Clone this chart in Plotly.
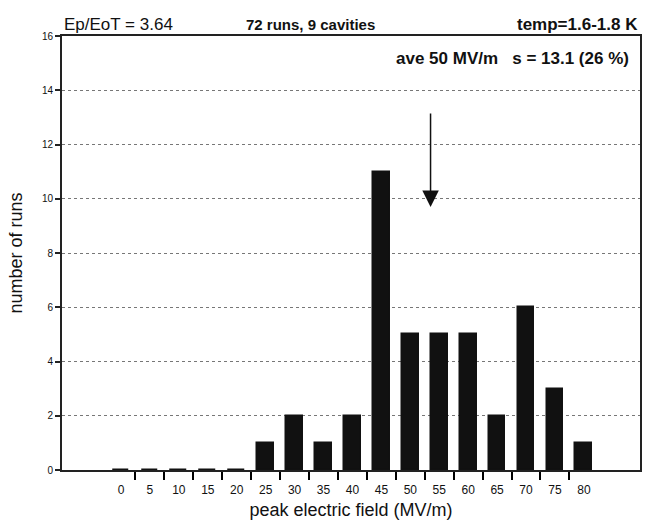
import plotly.graph_objects as go

field = [0, 5, 10, 15, 20, 25, 30, 35, 40, 45, 50, 55, 60, 65, 70, 75, 80]
runs = [0, 0, 0, 0, 0, 1, 2, 1, 2, 11, 5, 5, 5, 2, 6, 3, 1]
y_ticks = [0, 2, 4, 6, 8, 10, 12, 14, 16]
bin_edges = [2.5 + 5 * i for i in range(16)]

font = "Liberation Sans, Arial, Helvetica, sans-serif"
x_range = [-10.2, 89.7]

fig = go.Figure()
fig.add_trace(go.Bar(
    x=field, y=runs, width=2.9,
    marker=dict(color="#111111", line=dict(color="#111111", width=1.5)),
    showlegend=False,
))

fig.update_layout(
    width=652, height=520,
    margin=dict(l=62, r=12, t=36, b=50),
    paper_bgcolor="white", plot_bgcolor="white",
    font=dict(family=font, color="#111111"),
    bargap=0,
    xaxis=dict(
        range=x_range, automargin=False,
        tickmode="array", tickvals=field, ticktext=[str(v) for v in field],
        ticks="outside", ticklen=8, tickcolor="rgba(0,0,0,0)",
        tickfont=dict(size=12),
        showgrid=False, zeroline=False,
        showline=True, linecolor="#222222", linewidth=2, mirror=True,
        title=dict(text="peak electric field (MV/m)", font=dict(size=18)),
        minor=dict(tickvals=bin_edges, ticks="outside", ticklen=8,
                   tickwidth=2, tickcolor="#000000", showgrid=False),
    ),
    yaxis=dict(
        range=[0, 16], automargin=False,
        tickmode="array", tickvals=y_ticks,
        ticks="outside", ticklen=5, tickwidth=1.5, tickcolor="#222222",
        tickfont=dict(size=10),
        showgrid=True, gridcolor="#777777", griddash="dot", gridwidth=1,
        zeroline=False,
        showline=True, linecolor="#222222", linewidth=2, mirror=True,
        title=dict(text="number of runs", font=dict(size=18)),
    ),
)

fig.add_annotation(xref="paper", yref="paper", x=0.0, y=1.0, yshift=23,
                   text="Ep/EoT = 3.64", showarrow=False, xanchor="left",
                   font=dict(size=17))
fig.add_annotation(xref="paper", yref="paper", x=0.43, y=1.0, yshift=22,
                   text="<b>72 runs, 9 cavities</b>", showarrow=False, xanchor="center",
                   font=dict(size=15))
fig.add_annotation(xref="paper", yref="paper", x=1.0, y=1.0, yshift=23,
                   text="<b>temp=1.6-1.8 K</b>", showarrow=False, xanchor="right",
                   font=dict(size=17))
fig.add_annotation(xref="paper", yref="paper", x=0.985, y=0.975,
                   text="<b>ave 50 MV/m   s = 13.1 (26 %)</b>", showarrow=False,
                   xanchor="right", yanchor="top", font=dict(size=17))
fig.add_annotation(x=53.5, y=9.7, ax=53.5, ay=13.2, xref="x", yref="y",
                   axref="x", ayref="y", text="", showarrow=True,
                   arrowhead=2, arrowsize=2.2, arrowwidth=1.5, arrowcolor="#111111")

fig.write_html("out.html")
